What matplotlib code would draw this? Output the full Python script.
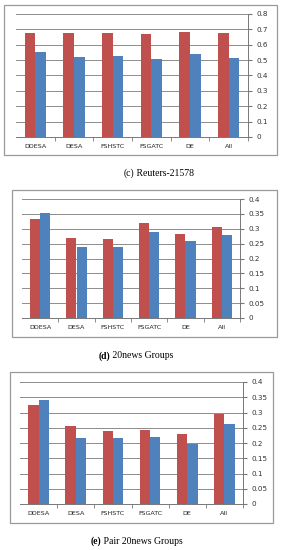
import matplotlib
matplotlib.use("Agg")
import matplotlib.pyplot as plt
from matplotlib.patches import Rectangle
import numpy as np

categories = ["DDESA", "DESA", "FSHSTC", "FSGATC", "DE", "All"]

reuters_red = [0.676, 0.677, 0.678, 0.669, 0.684, 0.675]
reuters_blue = [0.556, 0.521, 0.525, 0.508, 0.541, 0.517]

news_red = [0.333, 0.268, 0.266, 0.319, 0.282, 0.307]
news_blue = [0.353, 0.240, 0.238, 0.290, 0.260, 0.279]

pair_red = [0.326, 0.255, 0.238, 0.241, 0.229, 0.296]
pair_blue = [0.341, 0.215, 0.215, 0.221, 0.196, 0.262]

reuters_ticks = [0, 0.1, 0.2, 0.3, 0.4, 0.5, 0.6, 0.7, 0.8]
news_ticks = [0, 0.05, 0.1, 0.15, 0.2, 0.25, 0.3, 0.35, 0.4]

W, H = 284, 550
fig = plt.figure(figsize=(W / 100, H / 100), dpi=100)
fig.patch.set_facecolor("white")

RED = "#C0504D"
BLUE = "#4F81BD"


def px_axes(l, r, t, b):
    return fig.add_axes([l / W, 1 - b / H, (r - l) / W, (b - t) / H])


def frame(l, t, r, b):
    fig.patches.append(Rectangle((l / W, 1 - b / H), (r - l) / W, (b - t) / H,
                                 transform=fig.transFigure, fill=False,
                                 edgecolor="#9a9a9a", linewidth=0.9))


def panel(ax, red, blue, ticks, labels):
    x = np.arange(len(categories))
    w = 0.28
    ax.bar(x - w / 2, red, w, color=RED, zorder=3)
    ax.bar(x + w / 2, blue, w, color=BLUE, zorder=3)
    ax.set_xlim(-0.5, len(categories) - 0.5)
    ax.set_ylim(0, ticks[-1])
    ax.set_yticks(ticks)
    ax.set_yticklabels(labels, fontsize=5.2, color="#333333")
    ax.yaxis.tick_right()
    ax.grid(axis="y", color="#8c8c8c", linewidth=0.7, zorder=0)
    ax.set_xticks(x)
    ax.set_xticklabels(categories, fontsize=4.6, color="#222222")
    ax.set_xticks(np.arange(len(categories)) + 0.5, minor=True)
    ax.tick_params(axis="x", which="major", length=0, pad=5)
    ax.tick_params(axis="x", which="minor", length=3, color="#777777", direction="out")
    ax.tick_params(axis="y", length=3, color="#777777", pad=3)
    for s in ["top", "left"]:
        ax.spines[s].set_visible(False)
    ax.spines["right"].set_color("#777777")
    ax.spines["bottom"].set_color("#777777")
    ax.spines["right"].set_linewidth(0.7)
    ax.spines["bottom"].set_linewidth(0.7)


def fmt(ticks):
    out = []
    for t in ticks:
        s = ("%g" % t)
        out.append(s)
    return out


# Panel (c)
frame(4, 5, 277, 155)
ax1 = px_axes(16, 248, 14, 137)
panel(ax1, reuters_red, reuters_blue, reuters_ticks, fmt(reuters_ticks))

# Panel (d)
frame(12, 190, 277, 337)
ax2 = px_axes(22, 240, 199, 318)
panel(ax2, news_red, news_blue, news_ticks, fmt(news_ticks))

# Panel (e)
frame(10, 372, 273, 523)
ax3 = px_axes(20, 243, 382, 504)
panel(ax3, pair_red, pair_blue, news_ticks, fmt(news_ticks))

serif = ["Liberation Serif", "DejaVu Serif"]


def caption(xsplit, y, label, rest, bold):
    fig.text(xsplit / W, 1 - y / H, label, ha="right", va="center", fontsize=7,
             family=serif, fontweight="bold" if bold else "normal")
    fig.text(xsplit / W, 1 - y / H, " " + rest, ha="left", va="center", fontsize=7,
             family=serif)


caption(134, 173, "(c)", "Reuters-21578", False)
caption(110, 356, "(d)", "20news Groups", True)
caption(101, 541, "(e)", "Pair 20news Groups", True)

fig.savefig("out.png", dpi=100, facecolor="white")
